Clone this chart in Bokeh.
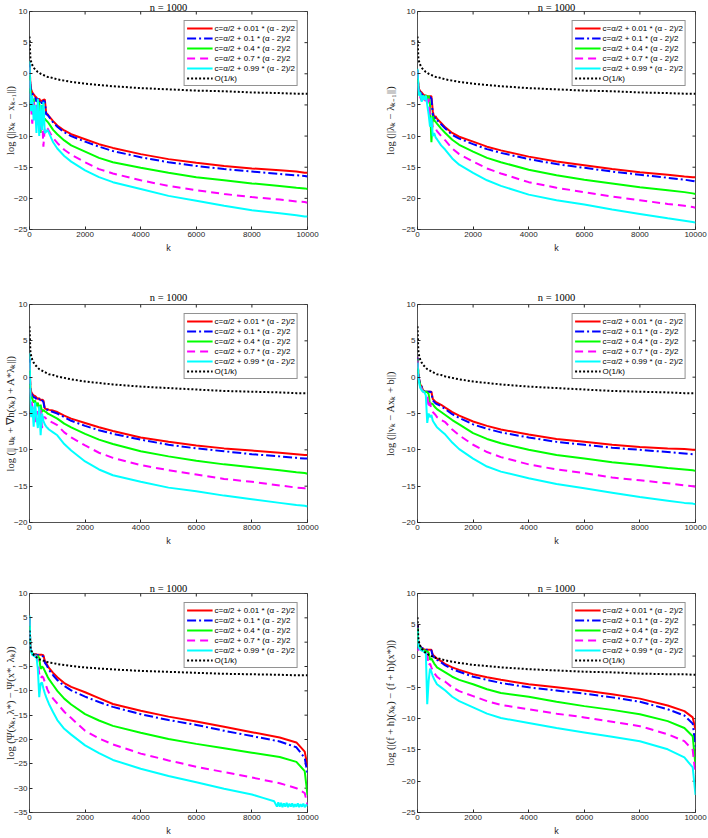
import math

from bokeh.plotting import figure
from bokeh.models import Range1d, Legend, LegendItem, FixedTicker
from bokeh.layouts import column, row
from bokeh.embed import file_html
from bokeh.resources import INLINE

# iteration counter k at which each curve is sampled
K = [1, 30, 60, 100, 150, 200, 250, 300, 350, 400, 450, 500, 550, 600, 650, 700,
     850, 1000, 1250, 1500, 2000, 2500, 3000, 4000, 5000, 6000, 7000, 8000,
     9000, 9600, 9900, 10000]

SERIES_LABELS = [
    "c=α/2 + 0.01 * (α - 2)/2",
    "c=α/2 + 0.1 * (α - 2)/2",
    "c=α/2 + 0.4 * (α - 2)/2",
    "c=α/2 + 0.7 * (α - 2)/2",
    "c=α/2 + 0.99 * (α - 2)/2",
]
REF_LABEL = "O(1/k)"
TITLE = "n = 1000"
X_TICKS = [0, 2000, 4000, 6000, 8000, 10000]

# panel 1: log(||x_k - x_{k-1}||)
P1_RED = [1.5, -1.5, -2.5, -3.0, -3.3, -3.6, -3.8, -4.2, -4.0, -4.4, -4.3, -4.2, -4.1, -6.3, -6.5, -6.8,
          -7.6, -8.3, -9.1, -9.7, -10.5, -11.3, -11.9, -12.9, -13.7, -14.3, -14.8, -15.2, -15.5, -15.7, -15.9, -15.9]
P1_BLUE = [1.5, -1.8, -2.8, -3.2, -3.5, -3.8, -4.5, -4.0, -4.6, -4.2, -4.8, -4.3, -4.5, -6.5, -6.6, -6.9,
           -7.8, -8.5, -9.4, -10.0, -10.9, -11.7, -12.4, -13.4, -14.2, -14.8, -15.3, -15.7, -16.1, -16.3, -16.4, -16.5]
P1_GREEN = [1.0, -2.5, -3.5, -5.0, -4.0, -6.5, -5.5, -8.0, -4.5, -9.5, -5.0, -7.5, -7.2, -7.5, -7.7, -8.0,
            -9.0, -9.7, -10.7, -11.5, -12.5, -13.5, -14.2, -15.1, -15.9, -16.6, -17.1, -17.6, -18.0, -18.3, -18.4, -18.5]
P1_MAGENTA = [1.0, -3.0, -5.5, -8.0, -4.5, -7.0, -5.0, -7.5, -6.0, -9.0, -6.5, -11.7, -8.5, -8.6, -8.8, -9.2,
              -10.3, -11.1, -12.2, -13.0, -14.2, -15.3, -16.0, -17.1, -18.0, -18.7, -19.3, -19.8, -20.2, -20.5, -20.6, -20.7]
P1_CYAN = [2.0, -4.0, -6.0, -3.5, -7.5, -5.0, -9.5, -4.0, -10.0, -5.0, -9.0, -4.5, -9.5, -9.3, -9.0, -9.5,
           -11.0, -12.0, -13.2, -14.1, -15.5, -16.6, -17.4, -18.5, -19.6, -20.4, -21.2, -21.9, -22.4, -22.7, -22.9, -22.9]

# panel 2: log(||lambda_k - lambda_{k-1}||)
P2_RED = [0.5, -1.8, -2.5, -2.8, -3.0, -3.3, -3.5, -3.5, -3.6, -3.7, -3.6, -3.6, -6.0, -7.0, -6.8, -7.2,
          -7.9, -8.6, -9.5, -10.1, -10.9, -11.7, -12.3, -13.3, -14.1, -14.7, -15.3, -15.8, -16.2, -16.5, -16.6, -16.6]
P2_BLUE = [0.5, -2.0, -2.7, -3.0, -3.3, -3.5, -3.7, -3.8, -3.9, -3.8, -3.7, -4.0, -6.5, -7.3, -7.0, -7.4,
           -8.1, -8.8, -9.8, -10.4, -11.3, -12.1, -12.7, -13.7, -14.5, -15.1, -15.7, -16.2, -16.7, -17.0, -17.2, -17.3]
P2_GREEN = [0.5, -2.0, -2.8, -3.5, -4.0, -3.5, -4.2, -3.4, -4.5, -3.5, -5.0, -11.0, -6.8, -7.5, -7.7, -8.0,
            -8.8, -9.5, -10.6, -11.4, -12.5, -13.5, -14.2, -15.4, -16.3, -17.0, -17.6, -18.2, -18.7, -19.0, -19.2, -19.3]
P2_MAGENTA = [0.5, -2.2, -3.0, -3.8, -4.3, -3.8, -4.5, -3.8, -5.0, -4.0, -6.5, -7.5, -8.6, -8.5, -8.8, -9.2,
              -10.0, -10.7, -12.0, -12.9, -14.1, -15.2, -16.0, -17.4, -18.3, -19.0, -19.7, -20.3, -20.9, -21.2, -21.4, -21.5]
P2_CYAN = [0.8, -2.5, -3.5, -3.0, -4.5, -3.5, -4.2, -3.5, -5.0, -6.5, -8.5, -7.0, -10.0, -9.5, -10.2, -10.5,
           -11.5, -12.2, -13.6, -14.6, -15.9, -17.1, -18.0, -19.4, -20.3, -21.0, -21.8, -22.5, -23.2, -23.6, -23.8, -23.9]

# O(1/k) reference used in the two top panels
O_TOP = [6.0, 2.6, 1.9, 1.4, 1.0, 0.7, 0.5, 0.3, 0.2, 0.0, -0.1, -0.2, -0.3, -0.4, -0.5, -0.5,
         -0.7, -0.9, -1.1, -1.3, -1.6, -1.8, -2.0, -2.3, -2.5, -2.7, -2.8, -3.0, -3.1, -3.2, -3.2, -3.2]

# panel 3: log(||u_k + grad h(x_k) + A* lambda_k||)
P3_RED = [2.5, -1.5, -2.0, -2.3, -2.5, -2.6, -2.8, -3.0, -2.9, -3.2, -3.1, -3.2, -4.3, -4.4, -4.4, -4.5,
          -4.6, -4.8, -5.3, -5.7, -6.3, -6.9, -7.4, -8.3, -8.9, -9.4, -9.8, -10.1, -10.4, -10.6, -10.7, -10.7]
P3_BLUE = [2.5, -1.6, -2.2, -2.5, -2.8, -2.8, -3.0, -3.2, -3.0, -3.4, -3.2, -3.4, -4.4, -4.5, -4.5, -4.6,
           -4.8, -5.0, -5.5, -6.0, -6.7, -7.3, -7.8, -8.6, -9.3, -9.8, -10.2, -10.6, -10.9, -11.1, -11.2, -11.2]
P3_GREEN = [2.0, -1.8, -2.5, -3.0, -3.5, -3.2, -4.0, -3.5, -4.5, -3.8, -4.8, -4.5, -4.7, -4.8, -5.0, -5.1,
            -5.4, -5.7, -6.4, -6.9, -7.8, -8.6, -9.2, -10.2, -10.9, -11.5, -12.0, -12.4, -12.8, -13.1, -13.2, -13.3]
P3_MAGENTA = [2.0, -2.0, -3.0, -4.0, -5.0, -6.5, -4.5, -5.0, -5.5, -4.5, -7.0, -5.5, -5.5, -5.7, -5.9, -6.0,
              -6.3, -6.6, -7.6, -8.3, -9.4, -10.4, -11.1, -12.1, -12.8, -13.4, -14.0, -14.4, -14.9, -15.2, -15.3, -15.4]
P3_CYAN = [3.3, -3.0, -5.5, -4.0, -6.8, -3.5, -5.5, -7.0, -4.0, -8.0, -5.0, -6.0, -6.5, -6.8, -7.0, -7.2,
           -7.6, -8.0, -9.2, -10.1, -11.6, -12.7, -13.5, -14.4, -15.2, -15.7, -16.3, -16.8, -17.3, -17.6, -17.7, -17.8]

# panel 4: log(||v_k - A x_k + b||)
P4_RED = [2.7, 0.5, -0.3, -1.0, -1.3, -1.8, -2.0, -2.0, -2.0, -2.0, -2.0, -2.0, -3.0, -3.2, -3.4, -3.5,
          -3.8, -4.2, -4.8, -5.3, -6.1, -6.7, -7.2, -7.9, -8.5, -8.9, -9.3, -9.6, -9.8, -9.9, -10.0, -10.0]
P4_BLUE = [2.7, 0.5, -0.3, -1.0, -1.3, -1.8, -2.0, -2.0, -2.0, -2.0, -2.0, -2.1, -3.2, -3.4, -3.6, -3.7,
           -4.0, -4.4, -5.1, -5.6, -6.5, -7.1, -7.6, -8.3, -8.9, -9.3, -9.7, -10.0, -10.3, -10.5, -10.6, -10.6]
P4_GREEN = [2.5, 0.3, -0.5, -1.2, -1.5, -1.9, -2.0, -2.0, -2.1, -2.3, -3.8, -3.6, -3.7, -4.0, -4.2, -4.4,
            -4.8, -5.2, -5.9, -6.5, -7.7, -8.5, -9.1, -10.0, -10.7, -11.2, -11.7, -12.1, -12.5, -12.7, -12.8, -12.9]
P4_MAGENTA = [2.3, 0.2, -0.6, -1.3, -1.6, -2.0, -2.1, -2.3, -2.5, -4.2, -3.5, -4.5, -4.8, -5.0, -5.2, -5.5,
              -5.9, -6.2, -7.2, -8.0, -9.3, -10.3, -11.0, -12.0, -12.7, -13.2, -13.8, -14.2, -14.6, -14.9, -15.0, -15.1]
P4_CYAN = [2.0, 0.0, -0.8, -1.5, -1.8, -2.0, -2.1, -2.5, -6.3, -5.0, -5.5, -5.2, -6.0, -6.3, -6.6, -6.9,
           -7.4, -7.9, -9.0, -9.9, -11.2, -12.3, -13.0, -13.9, -14.7, -15.3, -15.9, -16.5, -17.0, -17.3, -17.4, -17.5]

# O(1/k) reference used in the two middle panels
O_MID = [7.0, 3.6, 2.9, 2.4, 2.0, 1.7, 1.5, 1.3, 1.1, 1.0, 0.9, 0.8, 0.7, 0.6, 0.5, 0.4,
         0.3, 0.1, -0.1, -0.3, -0.6, -0.8, -1.0, -1.3, -1.5, -1.7, -1.9, -2.0, -2.1, -2.2, -2.2, -2.2]

# panel 5: log(Psi(x_k, lambda_*) - Psi(x_*, lambda_k))
P5_RED = [5.0, -1.0, -1.8, -2.3, -2.5, -2.5, -2.5, -2.6, -2.6, -2.6, -2.6, -2.7, -3.8, -4.3, -4.8, -5.3,
          -6.3, -7.2, -8.4, -9.2, -10.3, -11.5, -12.7, -14.1, -15.3, -16.3, -17.4, -18.5, -19.6, -20.6, -22.5, -25.5]
P5_BLUE = [5.0, -1.0, -1.8, -2.3, -2.5, -2.6, -2.6, -2.7, -2.7, -2.7, -2.8, -3.0, -4.2, -4.6, -5.1, -5.7,
           -6.8, -7.8, -9.0, -9.9, -11.2, -12.3, -13.3, -14.8, -16.0, -17.0, -18.2, -19.3, -20.4, -21.6, -23.8, -27.0]
P5_GREEN = [5.0, -1.0, -1.8, -2.4, -2.6, -2.7, -2.8, -2.9, -3.2, -5.5, -5.0, -5.3, -5.9, -6.5, -7.1, -7.6,
            -8.8, -10.0, -11.6, -12.8, -14.8, -16.1, -17.2, -18.6, -19.9, -20.9, -21.8, -22.7, -23.6, -24.6, -26.5, -31.5]
P5_MAGENTA = [5.0, -1.0, -1.9, -2.5, -2.7, -2.8, -2.9, -4.0, -6.5, -7.5, -7.0, -7.3, -8.2, -9.0, -9.8, -10.4,
              -11.6, -12.6, -14.3, -15.6, -18.2, -19.8, -21.0, -22.9, -24.3, -25.6, -26.7, -27.8, -29.0, -30.0, -31.0, -33.5]
# cyan runs on K up to 8000, then continues on its own finer tail grid
P5_CYAN = [5.5, -1.2, -2.0, -2.6, -2.8, -3.0, -3.0, -5.5, -11.3, -8.5, -8.3, -9.5, -10.5, -11.3, -12.0, -12.7,
           -14.4, -16.0, -17.8, -19.0, -21.2, -22.8, -24.2, -26.0, -27.5, -28.8, -30.1, -31.3]
K5_TAIL = [8400, 8800, 8900, 8950, 9000, 9050, 9100, 9150, 9200, 9250, 9300, 9350, 9400, 9450, 9500,
           9550, 9600, 9650, 9700, 9750, 9800, 9850, 9900, 9950, 10000]
P5_CYAN_TAIL = [-32.0, -32.7, -33.8, -32.9, -33.8, -33.0, -33.9, -33.1, -33.8, -33.0, -33.9, -33.2, -33.8,
                -33.1, -33.9, -33.3, -33.8, -33.1, -33.9, -33.3, -33.8, -33.2, -33.9, -33.4, -33.7]
O_P5 = [2.4, -1.0, -1.7, -2.2, -2.6, -2.9, -3.1, -3.3, -3.5, -3.6, -3.7, -3.8, -3.9, -4.0, -4.1, -4.2,
        -4.3, -4.5, -4.7, -4.9, -5.2, -5.4, -5.6, -5.9, -6.1, -6.3, -6.5, -6.6, -6.7, -6.8, -6.8, -6.8]

# panel 6: log(|(f+h)(x_k) - (f+h)(x_*)|)
P6_RED = [5.0, 2.0, 1.8, 1.5, 1.3, 1.2, 1.0, 1.0, 1.0, 1.0, 1.0, 1.0, 0.2, 0.0, -0.2, -0.4,
          -0.8, -1.3, -1.8, -2.2, -2.9, -3.4, -3.8, -4.5, -5.0, -5.5, -6.1, -6.8, -7.9, -8.8, -9.8, -11.8]
P6_BLUE = [5.0, 2.0, 1.8, 1.5, 1.3, 1.2, 1.0, 1.0, 1.0, 1.0, 1.0, 0.9, 0.0, -0.2, -0.4, -0.6,
           -1.0, -1.5, -2.1, -2.5, -3.3, -3.8, -4.3, -5.0, -5.5, -6.0, -6.6, -7.3, -8.5, -9.5, -10.8, -14.5]
P6_GREEN = [4.5, 1.8, 1.6, 1.3, 1.1, 1.0, 0.9, 0.8, 0.7, 0.6, -0.6, -0.4, -0.8, -1.2, -1.5, -1.8,
            -2.2, -2.6, -3.3, -3.8, -4.5, -5.3, -5.9, -6.5, -7.3, -8.0, -8.6, -9.3, -10.4, -11.5, -12.8, -17.5]
P6_MAGENTA = [0.8, 1.2, 1.3, 1.0, 0.9, 0.8, 0.6, 0.5, 0.3, -1.5, -1.2, -1.8, -2.3, -2.7, -3.0, -3.3,
              -3.8, -4.1, -5.0, -5.6, -6.4, -7.2, -7.8, -8.5, -9.2, -9.8, -10.5, -11.2, -12.5, -13.6, -15.0, -19.0]
P6_CYAN = [4.0, 1.5, 1.3, 1.0, 0.9, 0.8, 0.6, 0.5, -7.7, -4.0, -2.0, -2.5, -3.2, -3.7, -4.1, -4.5,
           -5.0, -5.5, -6.5, -7.2, -8.2, -9.2, -9.9, -10.7, -11.5, -12.2, -12.9, -13.6, -14.9, -16.2, -17.8, -22.2]
O_P6 = [6.2, 2.8, 2.1, 1.6, 1.2, 0.9, 0.7, 0.5, 0.4, 0.2, 0.1, 0.0, -0.1, -0.2, -0.3, -0.3,
        -0.5, -0.7, -0.9, -1.1, -1.4, -1.6, -1.8, -2.1, -2.3, -2.5, -2.6, -2.8, -2.9, -2.9, -3.0, -3.0]

Y_LABELS = [
    "log (||xₖ − xₖ₋₁||)",
    "log (||λₖ − λₖ₋₁||)",
    "log (|| uₖ + ∇h(xₖ) + A*λₖ||)",
    "log (||vₖ − Axₖ + b||)",
    "log (Ψ(xₖ, λ*) − Ψ(x*, λₖ))",
    "log (|(f + h)(xₖ) − (f + h)(x*)|)",
]
Y_LIMITS = [(-25, 10), (-25, 10), (-20, 10), (-20, 10), (-35, 10), (-25, 10)]

# line styles: red solid, blue dash-dot, green solid, magenta dashed, cyan solid
COLORS = ["#ff0000", "#0000ff", "#00ff00", "#ff00ff", "#00ffff"]
DASHES = ["solid", "9 3 2 3", "solid", "8 5", "solid"]

AX_COLOR = "#262626"
TICK_FONT = "Liberation Sans"
MATH_FONT = "Liberation Serif"

# (height, top border, bottom border, title standoff) per row
ROWS = [(280, 11, 51, -3), (280, 24, 38, 3), (278, 33, 26, 0)]
# (left border, right border, y-label standoff) per column
COLS = [(29, 47, -5), (63, 13, 3)]
FIG_W = 354


def style_axis(ax):
    ax.major_tick_in = 3
    ax.major_tick_out = 0
    ax.minor_tick_in = 0
    ax.minor_tick_out = 0
    ax.major_tick_line_color = AX_COLOR
    ax.axis_line_color = None
    ax.major_label_text_font = TICK_FONT
    ax.major_label_text_color = AX_COLOR
    ax.major_label_text_font_size = "8px"
    ax.major_label_standoff = 2


def make_panel(idx, series, ref, ylabel, ylim):
    r, c = divmod(idx, 2)
    h, top, bottom, title_gap = ROWS[r]
    left, right, ylabel_gap = COLS[c]
    y_ticks = list(range(ylim[0], ylim[1] + 1, 5))

    p = figure(width=FIG_W, height=h, output_backend="svg", toolbar_location=None,
               x_range=Range1d(0, 10000), y_range=Range1d(*ylim),
               min_border_left=left, min_border_right=right,
               min_border_top=top, min_border_bottom=bottom)
    p.grid.visible = False
    p.outline_line_color = AX_COLOR
    p.outline_line_width = 0.8
    p.background_fill_color = "white"
    p.border_fill_color = "white"

    p.title.text = TITLE
    p.title.align = "center"
    p.title.text_font = MATH_FONT
    p.title.text_font_size = "10.5px"
    p.title.text_font_style = "normal"
    p.title.text_color = "#000000"
    p.title.standoff = title_gap

    p.xaxis.ticker = FixedTicker(ticks=X_TICKS)
    p.yaxis.ticker = FixedTicker(ticks=y_ticks)
    style_axis(p.xaxis[0])
    style_axis(p.yaxis[0])
    p.xaxis.axis_label = "k"
    p.xaxis.axis_label_text_font = TICK_FONT
    p.xaxis.axis_label_text_font_size = "9px"
    p.xaxis.axis_label_text_font_style = "normal"
    p.xaxis.axis_label_text_color = AX_COLOR
    p.xaxis.axis_label_standoff = 3
    p.yaxis.axis_label = ylabel
    p.yaxis.axis_label_text_font = MATH_FONT
    p.yaxis.axis_label_text_font_size = "10.5px"
    p.yaxis.axis_label_text_font_style = "normal"
    p.yaxis.axis_label_text_color = AX_COLOR
    p.yaxis.axis_label_standoff = ylabel_gap

    # inward tick marks along the top and right edges of the box (clipped to the frame)
    p.scatter(X_TICKS, [ylim[1]] * len(X_TICKS), marker="dash", angle=math.pi / 2,
              size=6, line_color=AX_COLOR, line_width=1)
    p.scatter([10000] * len(y_ticks), y_ticks, marker="dash",
              size=6, line_color=AX_COLOR, line_width=1)

    items = []
    for (ks, ys), color, dash, label in zip(series, COLORS, DASHES, SERIES_LABELS):
        rr = p.line(ks, ys, line_color=color, line_width=2, line_dash=dash)
        items.append(LegendItem(label=label, renderers=[rr]))
    ro = p.line(K, ref, line_color="#000000", line_width=2, line_dash="2 2")
    items.append(LegendItem(label=REF_LABEL, renderers=[ro]))

    legend = Legend(items=items, location="top_right", margin=9, padding=2, spacing=0,
                    label_height=10, glyph_height=10, glyph_width=26, label_standoff=2,
                    label_text_font=TICK_FONT, label_text_font_size="8px",
                    label_text_color="#000000",
                    border_line_color=AX_COLOR, border_line_width=0.7,
                    background_fill_color="white", background_fill_alpha=1.0)
    p.add_layout(legend)
    return p


def on_k(values):
    return (K[:len(values)], values)


PANELS = [
    [on_k(P1_RED), on_k(P1_BLUE), on_k(P1_GREEN), on_k(P1_MAGENTA), on_k(P1_CYAN)],
    [on_k(P2_RED), on_k(P2_BLUE), on_k(P2_GREEN), on_k(P2_MAGENTA), on_k(P2_CYAN)],
    [on_k(P3_RED), on_k(P3_BLUE), on_k(P3_GREEN), on_k(P3_MAGENTA), on_k(P3_CYAN)],
    [on_k(P4_RED), on_k(P4_BLUE), on_k(P4_GREEN), on_k(P4_MAGENTA), on_k(P4_CYAN)],
    [on_k(P5_RED), on_k(P5_BLUE), on_k(P5_GREEN), on_k(P5_MAGENTA),
     (K[:len(P5_CYAN)] + K5_TAIL, P5_CYAN + P5_CYAN_TAIL)],
    [on_k(P6_RED), on_k(P6_BLUE), on_k(P6_GREEN), on_k(P6_MAGENTA), on_k(P6_CYAN)],
]
REFS = [O_TOP, O_TOP, O_MID, O_MID, O_P5, O_P6]

figs = [make_panel(i, PANELS[i], REFS[i], Y_LABELS[i], Y_LIMITS[i]) for i in range(6)]
layout = column(row(figs[0], figs[1]), row(figs[2], figs[3]), row(figs[4], figs[5]))

open("out.html", "w").write(file_html(layout, INLINE))
